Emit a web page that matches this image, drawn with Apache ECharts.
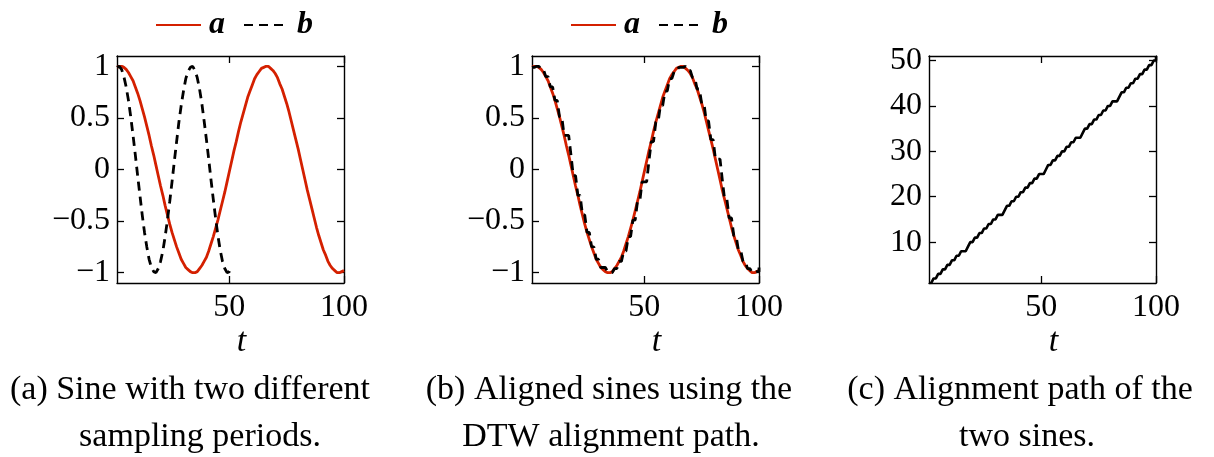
<!DOCTYPE html>
<html>
<head>
<meta charset="utf-8">
<title>DTW alignment of two sines</title>
<script src="https://cdn.jsdelivr.net/npm/echarts@6/dist/echarts.min.js"></script>
<style>
  html, body { margin: 0; padding: 0; background: #fff; }
  #chart { width: 1214px; height: 457px; }
</style>
</head>
<body>
<div id="chart"></div>
<script>
// Sine a, sampled at t = 1..100
const aValues = [
  0.99, 1.00, 1.00, 0.99, 0.97, 0.94, 0.90, 0.86, 0.80, 0.74,
  0.67, 0.59, 0.51, 0.42, 0.33, 0.23, 0.14, 0.04, -0.06, -0.16,
  -0.25, -0.35, -0.44, -0.53, -0.61, -0.68, -0.75, -0.81, -0.87, -0.91,
  -0.95, -0.97, -0.99, -1.00, -1.00, -0.99, -0.96, -0.93, -0.89, -0.85,
  -0.79, -0.72, -0.65, -0.57, -0.49, -0.40, -0.31, -0.22, -0.12, -0.02,
  0.08, 0.18, 0.27, 0.37, 0.46, 0.54, 0.62, 0.70, 0.76, 0.82,
  0.88, 0.92, 0.95, 0.98, 0.99, 1.00, 1.00, 0.98, 0.96, 0.93,
  0.89, 0.83, 0.78, 0.71, 0.64, 0.56, 0.47, 0.38, 0.29, 0.20,
  0.10, 0.00, -0.10, -0.20, -0.29, -0.38, -0.47, -0.56, -0.64, -0.71,
  -0.78, -0.83, -0.89, -0.93, -0.96, -0.98, -1.00, -1.00, -0.99, -0.98
];

// Sine b, same shape with a shorter sampling period, t = 1..51
const bValues = [
  0.99, 1.00, 0.97, 0.90, 0.80, 0.67, 0.51, 0.33, 0.14, -0.06,
  -0.25, -0.44, -0.61, -0.75, -0.87, -0.95, -0.99, -1.00, -0.96, -0.89,
  -0.79, -0.65, -0.49, -0.31, -0.12, 0.08, 0.27, 0.46, 0.62, 0.76,
  0.88, 0.95, 0.99, 1.00, 0.96, 0.89, 0.78, 0.64, 0.47, 0.29,
  0.10, -0.10, -0.29, -0.47, -0.64, -0.78, -0.89, -0.96, -1.00, -0.99,
  -0.95
];

// DTW warping path: index into a (pathI) paired with index into b (pathJ)
const pathI = [
  1, 2, 3, 4, 5, 6, 7, 8, 9, 10,
  11, 12, 13, 14, 15, 16, 17, 18, 19, 20,
  21, 22, 23, 24, 25, 26, 27, 28, 29, 30,
  31, 32, 33, 34, 35, 36, 37, 38, 39, 40,
  41, 42, 43, 44, 45, 46, 47, 48, 49, 50,
  51, 52, 53, 54, 55, 56, 57, 58, 59, 60,
  61, 62, 63, 64, 65, 66, 67, 68, 69, 70,
  71, 72, 73, 74, 75, 76, 77, 78, 79, 80,
  81, 82, 83, 84, 85, 86, 87, 88, 89, 90,
  91, 92, 93, 94, 95, 96, 97, 98, 99, 100,
  100
];
const pathJ = [
  1, 1, 2, 2, 3, 3, 4, 4, 5, 5,
  6, 6, 7, 7, 8, 8, 8, 9, 10, 10,
  11, 11, 12, 12, 13, 13, 14, 14, 15, 15,
  16, 16, 16, 17, 18, 18, 19, 19, 20, 20,
  21, 21, 22, 22, 23, 23, 24, 24, 25, 25,
  25, 26, 27, 27, 28, 28, 29, 29, 30, 30,
  31, 31, 32, 32, 33, 33, 33, 34, 35, 35,
  36, 36, 37, 37, 38, 38, 39, 39, 40, 40,
  41, 41, 41, 42, 43, 43, 44, 44, 45, 45,
  46, 46, 47, 47, 48, 48, 49, 49, 50, 50,
  51
];

// Tick labels
const xTicks = [50, 100];
const yTicksSine = [-1, -0.5, 0, 0.5, 1];
const yTicksPath = [10, 20, 30, 40, 50];

const captions = [
  ['(a) Sine with two different', 'sampling periods.'],
  ['(b) Aligned sines using the', 'DTW alignment path.'],
  ['(c) Alignment path of the', 'two sines.']
];

const RED = '#d42000';
const SERIF = '"Liberation Serif", "DejaVu Serif", serif';

const aData = aValues.map((v, k) => [k + 1, v]);
const bData = bValues.map((v, k) => [k + 1, v]);
const bAligned = pathI.map((i, k) => [i, bValues[pathJ[k] - 1]]);
const pathData = pathI.map((i, k) => [i, pathJ[k]]);

const fmt = v => (v < 0 ? '\u2212' + Math.abs(v) : String(v));

const grids = [
  { left: 117, top: 56, width: 227, height: 227 },
  { left: 532, top: 56, width: 227, height: 227 },
  { left: 929, top: 56, width: 227, height: 227 }
];

const frameLine = { show: true, onZero: false, lineStyle: { color: '#000', width: 1.4 } };
const tickLine = { color: '#000', width: 1.3 };

function xAxes(g) {
  const base = {
    type: 'value', gridIndex: g, min: 1, max: 100,
    axisLine: frameLine, splitLine: { show: false }
  };
  return [
    Object.assign({}, base, {
      position: 'bottom',
      axisTick: { show: true, inside: true, length: 7, customValues: xTicks, lineStyle: tickLine },
      axisLabel: { show: true, customValues: xTicks, margin: 9, color: '#000', fontSize: 32, fontFamily: SERIF },
      name: 't', nameLocation: 'middle', nameGap: 42,
      nameTextStyle: { fontSize: 34, fontStyle: 'italic', fontFamily: SERIF, color: '#000', padding: [0, 0, 0, 22] }
    }),
    Object.assign({}, base, {
      position: 'top',
      axisTick: { show: true, inside: true, length: 7, customValues: xTicks, lineStyle: tickLine },
      axisLabel: { show: false }
    })
  ];
}

function yAxes(g, min, max, ticks) {
  const base = {
    type: 'value', gridIndex: g, min: min, max: max,
    axisLine: frameLine, splitLine: { show: false }
  };
  return [
    Object.assign({}, base, {
      position: 'left',
      axisTick: { show: true, inside: true, length: 7, customValues: ticks, lineStyle: tickLine },
      axisLabel: { show: true, customValues: ticks, margin: 7, color: '#000', fontSize: 32, fontFamily: SERIF, formatter: fmt }
    }),
    Object.assign({}, base, {
      position: 'right',
      axisTick: { show: true, inside: true, length: 7, customValues: ticks, lineStyle: tickLine },
      axisLabel: { show: false }
    })
  ];
}

const xAxis = [].concat(xAxes(0), xAxes(1), xAxes(2));
const yAxis = [].concat(
  yAxes(0, -1.1, 1.1, yTicksSine),
  yAxes(1, -1.1, 1.1, yTicksSine),
  yAxes(2, 1, 51, yTicksPath)
);

const redLine = { color: RED, width: 2.8, type: 'solid' };
const dashLine = { color: '#000', width: 2.8, type: [9, 6] };

function lineSeries(name, data, axisIdx, lineStyle, color) {
  return {
    name: name, type: 'line', data: data,
    xAxisIndex: axisIdx, yAxisIndex: axisIdx,
    showSymbol: false, symbol: 'none',
    lineStyle: lineStyle, itemStyle: { color: color },
    animation: false, silent: true
  };
}

const series = [
  lineSeries('a', aData, 0, redLine, RED),
  lineSeries('b', bData, 0, dashLine, '#000'),
  lineSeries('a', aData, 2, redLine, RED),
  lineSeries('b', bAligned, 2, dashLine, '#000'),
  lineSeries('path', pathData, 4, { color: '#000', width: 2.6 }, '#000')
];

// Legend keys: plain line samples, no marker in the middle
function legendAt(left) {
  return {
    data: ['a', 'b'], left: left, top: 4, orient: 'horizontal',
    itemWidth: 45, itemHeight: 14, itemGap: 18, selectedMode: false,
    itemStyle: { opacity: 0 },
    textStyle: { fontSize: 32, fontStyle: 'italic', fontWeight: 'bold', fontFamily: SERIF, color: '#000', padding: [0, 0, 0, 3] }
  };
}

const captionCenters = [[190, 200], [609, 611], [1020, 1027]];
const graphic = [];
captions.forEach((lines, p) => {
  lines.forEach((txt, l) => {
    graphic.push({
      type: 'text', silent: true,
      x: captionCenters[p][l], y: 390 + l * 47,
      style: { text: txt, align: 'center', verticalAlign: 'middle', font: '34px ' + SERIF, fill: '#000' }
    });
  });
});

const chart = echarts.init(document.getElementById('chart'), null, { renderer: 'canvas' });
chart.setOption({
  backgroundColor: '#fff',
  animation: false,
  grid: grids,
  xAxis: xAxis,
  yAxis: yAxis,
  legend: [legendAt(150), legendAt(565)],
  series: series,
  graphic: graphic
});
</script>
</body>
</html>
